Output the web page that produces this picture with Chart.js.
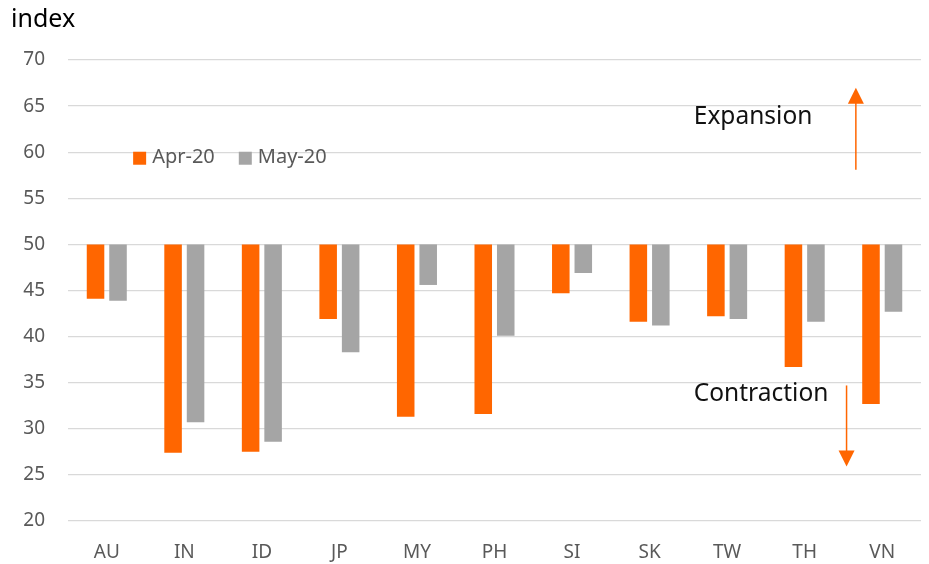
<!DOCTYPE html>
<html>
<head>
<meta charset="utf-8">
<script src="https://cdn.jsdelivr.net/npm/chart.js@4"></script>
<style>
  html, body { margin: 0; padding: 0; background: #fff; }
  #wrap { width: 929px; height: 564px; position: relative; }
</style>
</head>
<body>
<div id="wrap"><canvas id="pmiChart"></canvas></div>
<script>
// Dados do gráfico
const categories = ['AU', 'IN', 'ID', 'JP', 'MY', 'PH', 'SI', 'SK', 'TW', 'TH', 'VN'];
const apr20 = [44.1, 27.4, 27.5, 41.9, 31.3, 31.6, 44.7, 41.6, 42.2, 36.7, 32.7];
const may20 = [43.9, 30.7, 28.6, 38.3, 45.6, 40.1, 46.9, 41.2, 41.9, 41.6, 42.7];
const yTicks = [20, 25, 30, 35, 40, 45, 50, 55, 60, 65, 70];
const baseline = 50;

const ORANGE = '#FF6600';
const GREY = '#A5A5A5';
const FONT = '"Noto Sans", sans-serif';

// Barras flutuantes a partir de 50
const toFloating = arr => arr.map(v => [baseline, v]);

// Desenha o título do eixo, a legenda e as setas de expansão/contração
const extras = {
    id: 'extras',
    afterDraw(chart) {
        const ctx = chart.ctx;
        const x = chart.scales.x;
        const y = chart.scales.y;
        ctx.save();

        // Título "index"
        ctx.fillStyle = '#000';
        ctx.font = '25px ' + FONT;
        ctx.textBaseline = 'middle';
        ctx.textAlign = 'left';
        ctx.fillText('index', 11, 20);

        // Legenda dentro da área do gráfico
        ctx.font = '20px ' + FONT;
        let lx = x.getPixelForValue(0.34);
        const ly = y.getPixelForValue(59.4);
        chart.data.datasets.forEach(ds => {
            ctx.fillStyle = ds.backgroundColor;
            ctx.fillRect(lx, ly - 6, 13, 13);
            ctx.fillStyle = '#595959';
            ctx.fillText(ds.label, lx + 19, ly);
            lx += 19 + ctx.measureText(ds.label).width + 24;
        });

        // Textos das anotações
        ctx.fillStyle = '#111';
        ctx.font = '24.5px ' + FONT;
        ctx.fillText('Expansion', x.getPixelForValue(7.57), y.getPixelForValue(63.8));
        ctx.fillText('Contraction', x.getPixelForValue(7.57), y.getPixelForValue(33.8));

        // Setas
        const arrow = (xi, fromV, toV) => {
            const ax = x.getPixelForValue(xi);
            const y0 = y.getPixelForValue(fromV);
            const y1 = y.getPixelForValue(toV);
            const dir = y1 < y0 ? 1 : -1;
            ctx.strokeStyle = ORANGE;
            ctx.fillStyle = ORANGE;
            ctx.lineWidth = 1.5;
            ctx.beginPath();
            ctx.moveTo(ax, y0);
            ctx.lineTo(ax, y1 + dir * 12);
            ctx.stroke();
            ctx.beginPath();
            ctx.moveTo(ax, y1);
            ctx.lineTo(ax - 8, y1 + dir * 16);
            ctx.lineTo(ax + 8, y1 + dir * 16);
            ctx.closePath();
            ctx.fill();
        };
        arrow(9.66, 58.1, 67.0);
        arrow(9.54, 34.7, 25.9);

        ctx.restore();
    }
};

const ctx = document.getElementById('pmiChart').getContext('2d');
new Chart(ctx, {
    type: 'bar',
    data: {
        labels: categories,
        datasets: [
            { label: 'Apr-20', data: toFloating(apr20), backgroundColor: ORANGE, borderWidth: 0 },
            { label: 'May-20', data: toFloating(may20), backgroundColor: GREY, borderWidth: 0 }
        ]
    },
    options: {
        responsive: true,
        maintainAspectRatio: false,
        animation: false,
        categoryPercentage: 0.58,
        barPercentage: 0.78,
        layout: { padding: { top: 60, right: 8, left: 0, bottom: 0 } },
        plugins: {
            legend: { display: false },
            tooltip: { enabled: false }
        },
        scales: {
            y: {
                min: 20,
                max: 70,
                afterBuildTicks: axis => { axis.ticks = yTicks.map(v => ({ value: v })); },
                afterFit: axis => { axis.width = 68; },
                ticks: { color: '#595959', font: { size: 19, family: FONT }, padding: 23 },
                grid: { color: '#D9D9D9', lineWidth: 1.3, drawTicks: false },
                border: { display: false }
            },
            x: {
                afterFit: axis => { axis.height = 43; },
                ticks: { color: '#595959', font: { size: 19, family: FONT }, padding: 20 },
                grid: { display: false, drawTicks: false },
                border: { display: false }
            }
        }
    },
    plugins: [extras]
});
</script>
</body>
</html>
